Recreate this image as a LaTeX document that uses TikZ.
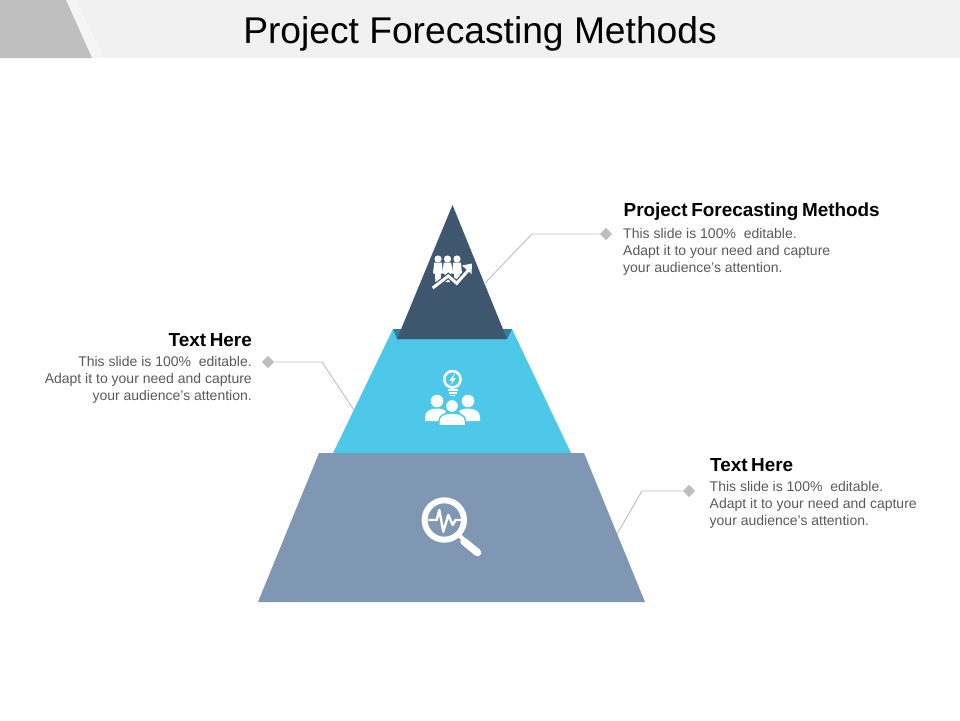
\documentclass[tikz,border=0pt]{standalone}
\usepackage{fontspec}
\setmainfont{Liberation Sans}
\newfontfamily\headfam[WordSpace=0.68]{Liberation Sans}
\usetikzlibrary{shapes.geometric}
\definecolor{navy}{HTML}{3F566F}
\definecolor{navyd}{HTML}{2F7F9E}
\definecolor{sky}{HTML}{4DC8E8}
\definecolor{slate}{HTML}{7F97B2}
\definecolor{bandl}{HTML}{F1F1F1}
\definecolor{bandd}{HTML}{BFBFBF}
\definecolor{linec}{HTML}{BDBDBD}
\definecolor{dia}{HTML}{BDBDBD}
\definecolor{bodyc}{HTML}{595959}
\tikzset{
  x=1pt,y=-1pt,
  title/.style={font=\fontsize{37.2}{40}\selectfont,text=black,anchor=base,inner sep=0},
  head/.style={font=\headfam\bfseries\fontsize{18.9}{20}\selectfont,text=black,inner sep=0},
  bodytxt/.style={font=\fontsize{14}{16.6}\selectfont,text=bodyc,inner sep=0},
  marker/.style={diamond,aspect=1,fill=dia,minimum size=12.5pt,inner sep=0},
  lead/.style={draw=linec,line width=.9pt},
  ic/.style={draw=white,line width=2.6pt,fill=none},
}
\begin{document}
\begin{tikzpicture}
\useasboundingbox (0,0) rectangle (960,720);
% title band
\fill[bandl] (0,0) rectangle (960,58);
\fill[white!96!black] (66,0) -- (76,0) -- (104,58) -- (92,58) -- cycle;
\fill[bandd] (0,0) -- (66,0) -- (92,58) -- (0,58) -- cycle;
\node[title] (ttl) at (480,43) {Project Forecasting Methods};
% pyramid
\fill[slate] (319,453) -- (584,453) -- (645,602) -- (258,602) -- cycle;
\fill[sky] (393,329) -- (512,329) -- (571,453) -- (333,453) -- cycle;
\fill[navyd] (393,329) -- (512,329) -- (507,339) -- (397,339) -- cycle;
\fill[navy] (452.5,205) -- (507,339) -- (397,339) -- cycle;
% anchors on pyramid
\coordinate (p1) at (484,284);
\coordinate (p2) at (354,410);
\coordinate (p3) at (617,534);
% markers
\node[marker] (m1) at (606,234) {};
\node[marker] (m2) at (268,362) {};
\node[marker] (m3) at (689,491) {};
\draw[lead] (m1) -- (532,234) -- (p1);
\draw[lead] (m2) -- (322,362) -- (p2);
\draw[lead] (m3) -- (642,491) -- (p3);
% texts
\node[head,anchor=base west] (h1) at (623.5,216) {Project Forecasting Methods};
\node[bodytxt,anchor=north west,align=left] (b1) at (623,228.5) {This slide is 100\%~ editable.\\Adapt it to your need and capture\\your audience’s attention.};
\node[head,anchor=base east] (h2) at (252,346) {Text Here};
\node[bodytxt,anchor=north east,align=right] (b2) at (252,356.5) {This slide is 100\%~ editable.\\Adapt it to your need and capture\\your audience’s attention.};
\node[head,anchor=base west] (h3) at (710,471) {Text Here};
\node[bodytxt,anchor=north west,align=left] (b3) at (709.5,481.5) {This slide is 100\%~ editable.\\Adapt it to your need and capture\\your audience’s attention.};
% icon 1: people and arrow
\foreach \cx in {438,447.5,457}{
  \fill[white] (\cx,259) circle (3.6);
  \fill[white] (\cx-3.8,262.5) -- (\cx+3.8,262.5) -- (\cx+5,273) -- (\cx+3,274) -- (\cx+2.6,282) -- (\cx-2.6,282) -- (\cx-3,274) -- (\cx-5,273) -- cycle;
}
\draw[navy,line width=5.5pt] (432.7,288) -- (448.3,276) -- (456.7,283.3) -- (470,268.3);
\draw[white,line width=3pt] (432.7,288) -- (448.3,276) -- (456.7,283.3) -- (469,269.5);
\fill[white] (472,263.5) -- (471.5,274) -- (462,265.5) -- cycle;
% icon 2: bulb and team
\draw[ic] (452.4,379.3) circle (8.2);
\draw[white,line width=1.6pt] (447.5,389.7) -- (457.5,389.7) (448.5,392.7) -- (456.5,392.7) (450,395.5) -- (455,395.5);
\fill[white] (455,373) -- (449.5,380.5) -- (452.5,380.5) -- (450.5,385.5) -- (456,378) -- (453,378) -- cycle;
\fill[white] (437,401) circle (6.3);
\fill[white] (468,401) circle (6.3);
\fill[white] (425,421) -- (425,417) .. controls (425,411) and (431,408.5) .. (437,408.5) .. controls (441,408.5) and (444,409.5) .. (446,411) -- (440,421) -- cycle;
\fill[white] (480,421) -- (480,417) .. controls (480,411) and (474,408.5) .. (468,408.5) .. controls (464,408.5) and (461,409.5) .. (459,411) -- (465,421) -- cycle;
\draw[sky,line width=1.4pt,fill=white] (452,406) circle (6.6);
\draw[sky,line width=1.4pt,fill=white] (439,425.8) -- (439,421) .. controls (439,415) and (445,413) .. (452,413) .. controls (459,413) and (465.5,415) .. (465.5,421) -- (465.5,425.8) -- cycle;
% icon 3: magnifier
\draw[white,line width=6pt,fill=none] (444.3,520) circle (19.7);
\draw[white,line width=4pt] (458,534) -- (464,540);
\draw[white,line width=7.5pt,line cap=round] (464,541.5) -- (477.5,552.5);
\draw[white,line width=2.4pt,line join=round] (428.3,520) -- (436.7,520) -- (439.3,510) -- (443.3,531.7) -- (448.3,515) -- (452.7,525) -- (455.5,520) -- (461.7,520);
\end{tikzpicture}
\end{document}
